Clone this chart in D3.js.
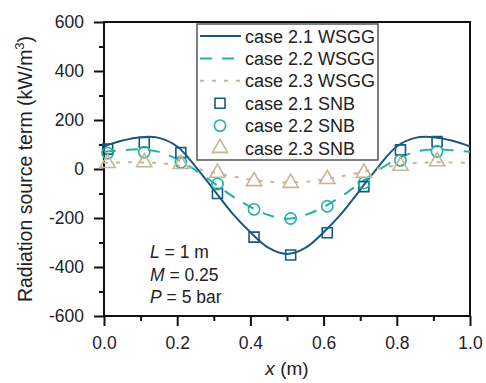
<!DOCTYPE html>
<html>
<head>
<meta charset="utf-8">
<script src="https://cdn.jsdelivr.net/npm/d3@7.9.0/dist/d3.min.js"></script>
<style>
  body { margin: 0; background: #fff; }
  svg { display: block; font-family: Arial, "Liberation Sans", sans-serif; }
  .axis text { font-size: 17.5px; fill: #222; }
</style>
</head>
<body>
<div id="chart"></div>
<script>
// WSGG curves, sampled along x
const lineX = [0, 0.05, 0.1, 0.15, 0.2, 0.25, 0.3, 0.35, 0.4, 0.45, 0.5,
               0.55, 0.6, 0.65, 0.7, 0.75, 0.8, 0.85, 0.9, 0.95, 1.0];
const wsgg21 = [92, 116, 130, 127, 92, 10, -85, -180, -258, -322, -347,
                -322, -258, -180, -85, 10, 92, 127, 130, 116, 92];
const wsgg22 = [70, 77, 80, 70, 40, -5, -57, -110, -155, -188, -203,
                -188, -155, -110, -57, -5, 40, 70, 80, 77, 70];
const wsgg23 = [25, 27, 27, 24, 15, 2, -14, -30, -43, -52, -55,
                -52, -43, -30, -14, 2, 15, 24, 27, 27, 25];

// SNB points
const snbX = [0.01, 0.11, 0.21, 0.31, 0.41, 0.51, 0.61, 0.71, 0.81, 0.91];
const snb21 = [81, 108, 67, -100, -278, -351, -260, -72, 78, 112];
const snb22 = [65, 69, 27, -61, -165, -202, -152, -57, 35, 72];
const snb23 = [24, 27, 20, -16, -50, -57, -41, -16, 13, 31];

const xTicks = [0, 0.2, 0.4, 0.6, 0.8, 1.0];
const yTicks = [-600, -400, -200, 0, 200, 400, 600];

const colors = { c21: '#19587f', c22: '#22b2a8', c23: '#c9b595' };

const width = 486, height = 383;
const margin = { top: 22, right: 16, bottom: 67, left: 104 };

const svg = d3.select('#chart').append('svg')
  .attr('width', width)
  .attr('height', height);

const x = d3.scaleLinear().domain([0, 1]).range([margin.left, width - margin.right]);
const y = d3.scaleLinear().domain([-600, 600]).range([height - margin.bottom, margin.top]);

// Minor ticks
const xMinor = d3.range(0.1, 1, 0.2);
const yMinor = d3.range(-500, 600, 200);

svg.append('g')
  .attr('transform', `translate(0,${y(-600)})`)
  .call(d3.axisBottom(x).tickValues(xMinor).tickSize(5).tickFormat(''))
  .call(g => g.select('.domain').remove())
  .selectAll('line').attr('stroke', '#111').attr('stroke-width', 2);

svg.append('g')
  .attr('transform', `translate(${x(0)},0)`)
  .call(d3.axisLeft(y).tickValues(yMinor).tickSize(5).tickFormat(''))
  .call(g => g.select('.domain').remove())
  .selectAll('line').attr('stroke', '#111').attr('stroke-width', 2);

// Major axes
svg.append('g')
  .attr('class', 'axis')
  .attr('transform', `translate(0,${y(-600)})`)
  .call(d3.axisBottom(x).tickValues(xTicks).tickSize(10).tickPadding(11).tickFormat(d3.format('.1f')))
  .call(g => g.select('.domain').remove())
  .call(g => g.selectAll('line').attr('stroke', '#111').attr('stroke-width', 2));

svg.append('g')
  .attr('class', 'axis')
  .attr('transform', `translate(${x(0)},0)`)
  .call(d3.axisLeft(y).tickValues(yTicks).tickSize(10).tickPadding(10).tickFormat(d => d))
  .call(g => g.select('.domain').remove())
  .call(g => g.selectAll('line').attr('stroke', '#111').attr('stroke-width', 2));

// Plot frame
svg.append('rect')
  .attr('x', x(0)).attr('y', y(600))
  .attr('width', x(1) - x(0)).attr('height', y(-600) - y(600))
  .attr('fill', 'none').attr('stroke', '#111').attr('stroke-width', 2);

// WSGG lines
const line = d3.line()
  .x((d, i) => x(lineX[i]))
  .y(d => y(d))
  .curve(d3.curveCatmullRom);

const lines = [
  { values: wsgg21, color: colors.c21, dash: null },
  { values: wsgg22, color: colors.c22, dash: '12,10' },
  { values: wsgg23, color: colors.c23, dash: '4,8' },
];

svg.append('g').selectAll('path')
  .data(lines)
  .join('path')
  .attr('d', d => line(d.values))
  .attr('fill', 'none')
  .attr('stroke', d => d.color)
  .attr('stroke-width', 2)
  .attr('stroke-dasharray', d => d.dash);

// SNB markers
const sym = {
  square: d3.symbol().type(d3.symbolSquare).size(100),
  circle: d3.symbol().type(d3.symbolCircle).size(100),
  triangle: d3.symbol().type(d3.symbolTriangle).size(100),
};

const markers = [
  { values: snb21, color: colors.c21, shape: 'square' },
  { values: snb22, color: colors.c22, shape: 'circle' },
  { values: snb23, color: colors.c23, shape: 'triangle' },
];

markers.forEach(m => {
  svg.append('g').selectAll('path')
    .data(m.values)
    .join('path')
    .attr('transform', (d, i) => `translate(${x(snbX[i])},${y(d)})`)
    .attr('d', sym[m.shape]())
    .attr('fill', 'none')
    .attr('stroke', m.color)
    .attr('stroke-width', 1.6);
});

// Legend
const legend = svg.append('g').attr('transform', 'translate(197,24)');
legend.append('rect')
  .attr('width', 181).attr('height', 136)
  .attr('fill', '#fff').attr('stroke', '#555').attr('stroke-width', 1.5);

const legendItems = [
  { label: 'case 2.1 WSGG', color: colors.c21, dash: null },
  { label: 'case 2.2 WSGG', color: colors.c22, dash: '12,10' },
  { label: 'case 2.3 WSGG', color: colors.c23, dash: '4,8' },
  { label: 'case 2.1 SNB', color: colors.c21, shape: 'square' },
  { label: 'case 2.2 SNB', color: colors.c22, shape: 'circle' },
  { label: 'case 2.3 SNB', color: colors.c23, shape: 'triangle' },
];

legendItems.forEach((item, i) => {
  const g = legend.append('g').attr('transform', `translate(0,${12 + i * 22.4})`);
  if (item.shape) {
    g.append('path')
      .attr('transform', 'translate(23,0)')
      .attr('d', sym[item.shape]())
      .attr('fill', 'none')
      .attr('stroke', item.color)
      .attr('stroke-width', 1.6);
  } else {
    g.append('line')
      .attr('x1', 3).attr('x2', 44)
      .attr('stroke', item.color)
      .attr('stroke-width', 2)
      .attr('stroke-dasharray', item.dash);
  }
  g.append('text')
    .attr('x', 48).attr('y', 6.5)
    .style('font-size', '18px').attr('fill', '#222')
    .text(item.label);
});

// Annotation
const notes = [['L', ' = 1 m'], ['M', ' = 0.25'], ['P', ' = 5 bar']];
notes.forEach(([v, rest], i) => {
  const t = svg.append('text')
    .attr('x', 150).attr('y', 258 + i * 22.5)
    .style('font-size', '17.5px').attr('fill', '#222');
  t.append('tspan').style('font-style', 'italic').text(v);
  t.append('tspan').text(rest);
});

// Axis titles
const xt = svg.append('text')
  .attr('x', x(0.5)).attr('y', 375)
  .attr('text-anchor', 'middle')
  .style('font-size', '19px').attr('fill', '#222');
xt.append('tspan').style('font-style', 'italic').text('x');
xt.append('tspan').text(' (m)');

const yt = svg.append('text')
  .attr('transform', `translate(32,${y(0)}) rotate(-90)`)
  .attr('text-anchor', 'middle')
  .style('font-size', '19.5px').attr('fill', '#222');
yt.append('tspan').text('Radiation source term (kW/m');
yt.append('tspan').attr('dy', -8).style('font-size', '13px').text('3');
yt.append('tspan').attr('dy', 8).text(')');
</script>
</body>
</html>
